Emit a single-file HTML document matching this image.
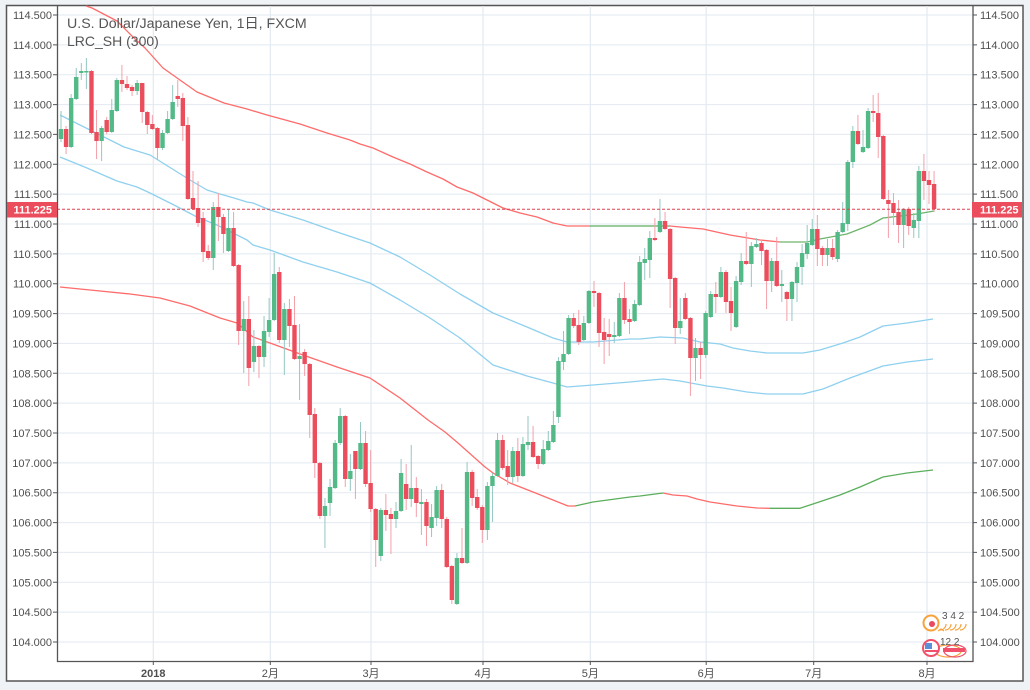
<!DOCTYPE html>
<html><head><meta charset="utf-8"><style>
html,body{margin:0;padding:0;background:#f0f3f6;}
svg{display:block}
.uw{stroke:#94c7c2;stroke-width:1;fill:none}
.dw{stroke:#f3a0a9;stroke-width:1;fill:none}
.ub{stroke:#53b987;stroke-width:4.4;fill:none}
.db{stroke:#eb4d5c;stroke-width:4.4;fill:none}
.ax{font-family:"Liberation Sans",Arial,sans-serif;font-size:11px;fill:#4f4f4f}
.axr{font-family:"Liberation Sans",Arial,sans-serif;font-size:11px;fill:#4f4f4f;text-anchor:end}
.bx{font-family:"Liberation Sans","Noto Sans CJK JP",sans-serif;font-size:11px;fill:#4f4f4f;text-anchor:middle}
</style></head><body>
<svg width="1030" height="690" viewBox="0 0 1030 690" xmlns="http://www.w3.org/2000/svg">
<rect width="1030" height="690" fill="#f0f3f6"/>
<rect x="6.5" y="5.5" width="1016.5" height="675.5" fill="#ffffff" stroke="#555" stroke-width="1.5"/>
<!-- grid -->
<path stroke="#e2eaf1" stroke-width="1" fill="none" d="M57 15H973M57 44.9H973M57 74.7H973M57 104.6H973M57 134.4H973M57 164.3H973M57 194.1H973M57 224H973M57 253.9H973M57 283.7H973M57 313.6H973M57 343.4H973M57 373.3H973M57 403.1H973M57 433H973M57 462.9H973M57 492.7H973M57 522.6H973M57 552.4H973M57 582.3H973M57 612.1H973M57 642H973"/>
<path stroke="#e2eaf1" stroke-width="1.2" fill="none" d="M153.3 6V661M270.3 6V661M371 6V661M483 6V661M590.3 6V661M706.2 6V661M813.7 6V661M927 6V661"/>
<!-- indicator lines -->
<g fill="none" stroke-width="1.3" stroke-linejoin="round">
<polyline stroke="#ff6b6b" points="86,6 92,8 117,21 133,37 145,48 163,68 187,85 197,92 224,103 247,109 267,115 300,124 327,133 350,140 360,144 373,148 393,157 410,164 427,172 443,179 457,187 473,193 487,200 503,208 520,213 537,217 553,223 567,226 590,226"/>
<polyline stroke="#5cae5c" points="590,226 670,226"/>
<polyline stroke="#ff6b6b" points="670,226 680,227 703,229 730,235 760,240 780,242"/>
<polyline stroke="#6db56d" points="780,242 807,242 820,239 847,234 870,225 883,218 900,216 917,214 934,211"/>
<polyline stroke="#8fd0ef" points="60,115 90,130 124,147 150,155 190,180 207,190 220,194 234,198 247,202 253,203 270,210 303,220 337,232 370,243 400,257 430,275 460,294 493,313 527,327 553,338 567,342 593,342 630,339 640,339 660,337 683,338 700,342 720,344 733,348 750,351 767,353 803,353 820,350 843,343 860,337 883,326 907,323 933,319"/>
<polyline stroke="#8fd0ef" points="60,157 87,168 117,181 137,187 150,193 174,205 197,217 217,225 233,233 247,240 253,245 270,250 303,262 337,272 370,283 400,300 430,318 460,338 493,365 527,376 553,383 567,387 593,385 630,382 640,381 663,379 680,381 707,386 723,388 747,392 767,394 803,394 823,389 850,378 883,366 907,362 933,359"/>
<polyline stroke="#ff6b6b" points="60,287 100,291 130,294 160,298 190,306 220,318 237,323 253,337 270,343 303,355 337,367 370,378 400,398 428,420 445,432 458,443 485,467 493,473 510,483 533,492 553,500 568,506 575,506"/>
<polyline stroke="#5cae5c" points="575,506 593,502 630,497 640,496 663,493"/>
<polyline stroke="#ff6b6b" points="663,493 673,495 687,496 697,499 710,502 737,506 757,508 770,508.3"/>
<polyline stroke="#5cae5c" points="770,508.3 800,508.3 813,504 840,495 860,487 883,477 907,473 933,470"/>
</g>
<!-- candles -->
<g transform="translate(61,0)"><path class="uw" d="M0 111V142"/><path class="ub" d="M0 129V139"/>
<g transform="translate(5.076,0)"><path class="dw" d="M0 126V154"/><path class="db" d="M0 129V147"/>
<g transform="translate(5.076,0)"><path class="uw" d="M0 94V148"/><path class="ub" d="M0 98V147"/>
<g transform="translate(5.076,0)"><path class="uw" d="M0 68V100"/><path class="ub" d="M0 77V99"/>
<g transform="translate(5.076,0)"><path class="uw" d="M0 63V80"/><path class="ub" d="M0 71V73"/>
<g transform="translate(5.076,0)"><path class="uw" d="M0 58V89"/><path class="ub" d="M0 71V72.5"/>
<g transform="translate(5.076,0)"><path class="dw" d="M0 70V134"/><path class="db" d="M0 71V133"/>
<g transform="translate(5.076,0)"><path class="dw" d="M0 110V159"/><path class="db" d="M0 132V141"/>
<g transform="translate(5.076,0)"><path class="uw" d="M0 126V161"/><path class="ub" d="M0 128V141"/>
<g transform="translate(5.076,0)"><path class="dw" d="M0 117V134"/><path class="db" d="M0 120V132"/>
<g transform="translate(5.076,0)"><path class="uw" d="M0 99V133"/><path class="ub" d="M0 110V132"/>
<g transform="translate(5.076,0)"><path class="uw" d="M0 78V112"/><path class="ub" d="M0 80V111"/>
<g transform="translate(5.076,0)"><path class="dw" d="M0 65V92"/><path class="db" d="M0 80V84"/>
<g transform="translate(5.076,0)"><path class="dw" d="M0 76V90"/><path class="db" d="M0 84V88"/>
<g transform="translate(5.076,0)"><path class="dw" d="M0 85V96"/><path class="db" d="M0 87V91"/>
<g transform="translate(5.076,0)"><path class="uw" d="M0 80V95"/><path class="ub" d="M0 83V91"/>
<g transform="translate(5.076,0)"><path class="dw" d="M0 83V123"/><path class="db" d="M0 83V112"/>
<g transform="translate(5.076,0)"><path class="dw" d="M0 111V134"/><path class="db" d="M0 112V125"/>
<g transform="translate(5.076,0)"><path class="dw" d="M0 115V130"/><path class="db" d="M0 124V129"/>
<g transform="translate(5.076,0)"><path class="dw" d="M0 127V160"/><path class="db" d="M0 128V148"/>
<g transform="translate(5.076,0)"><path class="uw" d="M0 130V150"/><path class="ub" d="M0 133V148"/>
<g transform="translate(5.076,0)"><path class="uw" d="M0 111V134"/><path class="ub" d="M0 119V133"/>
<g transform="translate(5.076,0)"><path class="uw" d="M0 85V120"/><path class="ub" d="M0 102V119"/>
<g transform="translate(5.076,0)"><path class="dw" d="M0 80V107"/><path class="db" d="M0 96V99"/>
<g transform="translate(5.076,0)"><path class="dw" d="M0 93V141"/><path class="db" d="M0 98V126"/>
<g transform="translate(5.076,0)"><path class="dw" d="M0 117V200"/><path class="db" d="M0 125V199"/>
<g transform="translate(5.076,0)"><path class="dw" d="M0 171V210"/><path class="db" d="M0 198V209"/>
<g transform="translate(5.076,0)"><path class="dw" d="M0 181V227"/><path class="db" d="M0 208V223"/>
<g transform="translate(5.076,0)"><path class="dw" d="M0 212V262"/><path class="db" d="M0 218V252"/>
<g transform="translate(5.076,0)"><path class="dw" d="M0 245V260"/><path class="db" d="M0 251V258"/>
<g transform="translate(5.076,0)"><path class="uw" d="M0 202V270"/><path class="ub" d="M0 207V258"/>
<g transform="translate(5.076,0)"><path class="dw" d="M0 193V241"/><path class="db" d="M0 207V217"/>
<g transform="translate(5.076,0)"><path class="dw" d="M0 214V253"/><path class="db" d="M0 217V234"/>
<g transform="translate(5.076,0)"><path class="uw" d="M0 209V252"/><path class="ub" d="M0 228V251"/>
<g transform="translate(5.076,0)"><path class="dw" d="M0 212V267"/><path class="db" d="M0 228V266"/>
<g transform="translate(5.076,0)"><path class="dw" d="M0 264V345"/><path class="db" d="M0 265V331"/>
<g transform="translate(5.076,0)"><path class="uw" d="M0 301V373"/><path class="ub" d="M0 319V331"/>
<g transform="translate(5.076,0)"><path class="dw" d="M0 296V386"/><path class="db" d="M0 319V368"/>
<g transform="translate(5.076,0)"><path class="uw" d="M0 330V372"/><path class="ub" d="M0 346V362"/>
<g transform="translate(5.076,0)"><path class="dw" d="M0 345V378"/><path class="db" d="M0 346V357"/>
<g transform="translate(5.076,0)"><path class="uw" d="M0 316V367"/><path class="ub" d="M0 331V357"/>
<g transform="translate(5.076,0)"><path class="uw" d="M0 298V337"/><path class="ub" d="M0 320V332"/>
<g transform="translate(5.076,0)"><path class="uw" d="M0 253V321"/><path class="ub" d="M0 274V320"/>
<g transform="translate(5.076,0)"><path class="dw" d="M0 267V343"/><path class="db" d="M0 272V340"/>
<g transform="translate(5.076,0)"><path class="uw" d="M0 303V375"/><path class="ub" d="M0 309V340"/>
<g transform="translate(5.076,0)"><path class="dw" d="M0 299V347"/><path class="db" d="M0 309V326"/>
<g transform="translate(5.076,0)"><path class="dw" d="M0 296V360"/><path class="db" d="M0 325V359"/>
<g transform="translate(5.076,0)"><path class="uw" d="M0 324V400"/><path class="ub" d="M0 356V359"/>
<g transform="translate(5.076,0)"><path class="dw" d="M0 349V376"/><path class="db" d="M0 352V364"/>
<g transform="translate(5.076,0)"><path class="dw" d="M0 363V438"/><path class="db" d="M0 364V415"/>
<g transform="translate(5.076,0)"><path class="dw" d="M0 408V478"/><path class="db" d="M0 414V463"/>
<g transform="translate(5.076,0)"><path class="dw" d="M0 462V519"/><path class="db" d="M0 463V516"/>
<g transform="translate(5.076,0)"><path class="uw" d="M0 498V548"/><path class="ub" d="M0 506V516"/>
<g transform="translate(5.076,0)"><path class="uw" d="M0 479V516"/><path class="ub" d="M0 487V503"/>
<g transform="translate(5.076,0)"><path class="uw" d="M0 440V489"/><path class="ub" d="M0 443V488"/>
<g transform="translate(5.076,0)"><path class="uw" d="M0 408V445"/><path class="ub" d="M0 416V443"/>
<g transform="translate(5.076,0)"><path class="dw" d="M0 415V487"/><path class="db" d="M0 416V479"/>
<g transform="translate(5.076,0)"><path class="uw" d="M0 454V491"/><path class="ub" d="M0 471V479"/>
<g transform="translate(5.076,0)"><path class="dw" d="M0 451V499"/><path class="db" d="M0 451V469"/>
<g transform="translate(5.076,0)"><path class="uw" d="M0 422V470"/><path class="ub" d="M0 443V469"/>
<g transform="translate(5.076,0)"><path class="dw" d="M0 431V487"/><path class="db" d="M0 443V484"/>
<g transform="translate(5.076,0)"><path class="dw" d="M0 450V512"/><path class="db" d="M0 483V509"/>
<g transform="translate(5.076,0)"><path class="dw" d="M0 508V567"/><path class="db" d="M0 509V540"/>
<g transform="translate(5.076,0)"><path class="uw" d="M0 508V561"/><path class="ub" d="M0 510V556"/>
<g transform="translate(5.076,0)"><path class="dw" d="M0 494V531"/><path class="db" d="M0 510V515"/>
<g transform="translate(5.076,0)"><path class="dw" d="M0 508V554"/><path class="db" d="M0 514V519"/>
<g transform="translate(5.076,0)"><path class="uw" d="M0 502V528"/><path class="ub" d="M0 511V519"/>
<g transform="translate(5.076,0)"><path class="uw" d="M0 459V512"/><path class="ub" d="M0 473V511"/>
<g transform="translate(5.076,0)"><path class="dw" d="M0 464V510"/><path class="db" d="M0 484V499"/>
<g transform="translate(5.076,0)"><path class="uw" d="M0 445V507"/><path class="ub" d="M0 488V499"/>
<g transform="translate(5.076,0)"><path class="dw" d="M0 477V517"/><path class="db" d="M0 488V503"/>
<g transform="translate(5.076,0)"><path class="uw" d="M0 489V535"/><path class="ub" d="M0 502V504"/>
<g transform="translate(5.076,0)"><path class="dw" d="M0 499V546"/><path class="db" d="M0 502V526"/>
<g transform="translate(5.076,0)"><path class="uw" d="M0 504V537"/><path class="ub" d="M0 517V528"/>
<g transform="translate(5.076,0)"><path class="uw" d="M0 486V526"/><path class="ub" d="M0 490V518"/>
<g transform="translate(5.076,0)"><path class="dw" d="M0 484V528"/><path class="db" d="M0 490V519"/>
<g transform="translate(5.076,0)"><path class="dw" d="M0 517V568"/><path class="db" d="M0 519V567"/>
<g transform="translate(5.076,0)"><path class="dw" d="M0 565V604"/><path class="db" d="M0 566V600"/>
<g transform="translate(5.076,0)"><path class="uw" d="M0 553V605"/><path class="ub" d="M0 558V604"/>
<g transform="translate(5.076,0)"><path class="dw" d="M0 528V564"/><path class="db" d="M0 558V563"/>
<g transform="translate(5.076,0)"><path class="uw" d="M0 462V564"/><path class="ub" d="M0 472V563"/>
<g transform="translate(5.076,0)"><path class="dw" d="M0 470V506"/><path class="db" d="M0 472V498"/>
<g transform="translate(5.076,0)"><path class="dw" d="M0 489V510"/><path class="db" d="M0 497V508"/>
<g transform="translate(5.076,0)"><path class="dw" d="M0 505V543"/><path class="db" d="M0 507V530"/>
<g transform="translate(5.076,0)"><path class="uw" d="M0 482V540"/><path class="ub" d="M0 486V530"/>
<g transform="translate(5.076,0)"><path class="uw" d="M0 473V522"/><path class="ub" d="M0 476V486"/>
<g transform="translate(5.076,0)"><path class="uw" d="M0 433V477"/><path class="ub" d="M0 440V476"/>
<g transform="translate(5.076,0)"><path class="dw" d="M0 435V470"/><path class="db" d="M0 440V468"/>
<g transform="translate(5.076,0)"><path class="dw" d="M0 450V485"/><path class="db" d="M0 466V477"/>
<g transform="translate(5.076,0)"><path class="uw" d="M0 447V483"/><path class="ub" d="M0 451V477"/>
<g transform="translate(5.076,0)"><path class="dw" d="M0 438V482"/><path class="db" d="M0 451V476"/>
<g transform="translate(5.076,0)"><path class="uw" d="M0 437V477"/><path class="ub" d="M0 444V476"/>
<g transform="translate(5.076,0)"><path class="uw" d="M0 416V450"/><path class="ub" d="M0 442V445"/>
<g transform="translate(5.076,0)"><path class="dw" d="M0 426V458"/><path class="db" d="M0 442V457"/>
<g transform="translate(5.076,0)"><path class="dw" d="M0 455V469"/><path class="db" d="M0 456V464"/>
<g transform="translate(5.076,0)"><path class="uw" d="M0 440V465"/><path class="ub" d="M0 449V464"/>
<g transform="translate(5.076,0)"><path class="uw" d="M0 431V451"/><path class="ub" d="M0 441V450"/>
<g transform="translate(5.076,0)"><path class="uw" d="M0 411V443"/><path class="ub" d="M0 425V442"/>
<g transform="translate(5.076,0)"><path class="uw" d="M0 357V423"/><path class="ub" d="M0 361V417"/>
<g transform="translate(5.076,0)"><path class="uw" d="M0 331V370"/><path class="ub" d="M0 354V362"/>
<g transform="translate(5.076,0)"><path class="uw" d="M0 315V355"/><path class="ub" d="M0 318V354"/>
<g transform="translate(5.076,0)"><path class="dw" d="M0 313V328"/><path class="db" d="M0 318V326"/>
<g transform="translate(5.076,0)"><path class="dw" d="M0 310V345"/><path class="db" d="M0 325V342"/>
<g transform="translate(5.076,0)"><path class="uw" d="M0 316V341"/><path class="ub" d="M0 323V340"/>
<g transform="translate(5.076,0)"><path class="uw" d="M0 290V324"/><path class="ub" d="M0 291V323"/>
<g transform="translate(5.076,0)"><path class="dw" d="M0 281V307"/><path class="db" d="M0 291V293"/>
<g transform="translate(5.076,0)"><path class="dw" d="M0 292V347"/><path class="db" d="M0 293V333"/>
<g transform="translate(5.076,0)"><path class="dw" d="M0 318V364"/><path class="db" d="M0 332V340"/>
<g transform="translate(5.076,0)"><path class="dw" d="M0 319V356"/><path class="db" d="M0 334V337"/>
<g transform="translate(5.076,0)"><path class="uw" d="M0 322V343"/><path class="ub" d="M0 335V337"/>
<g transform="translate(5.076,0)"><path class="uw" d="M0 293V337"/><path class="ub" d="M0 298V336"/>
<g transform="translate(5.076,0)"><path class="dw" d="M0 282V324"/><path class="db" d="M0 298V320"/>
<g transform="translate(5.076,0)"><path class="dw" d="M0 309V334"/><path class="db" d="M0 319V322"/>
<g transform="translate(5.076,0)"><path class="uw" d="M0 300V322"/><path class="ub" d="M0 304V321"/>
<g transform="translate(5.076,0)"><path class="uw" d="M0 256V306"/><path class="ub" d="M0 262V305"/>
<g transform="translate(5.076,0)"><path class="uw" d="M0 248V280"/><path class="ub" d="M0 259V263"/>
<g transform="translate(5.076,0)"><path class="uw" d="M0 231V278"/><path class="ub" d="M0 238V260"/>
<g transform="translate(5.076,0)"><path class="dw" d="M0 218V241"/><path class="db" d="M0 238V240"/>
<g transform="translate(5.076,0)"><path class="uw" d="M0 199V233"/><path class="ub" d="M0 221V232"/>
<g transform="translate(5.076,0)"><path class="dw" d="M0 212V230"/><path class="db" d="M0 221V229"/>
<g transform="translate(5.076,0)"><path class="dw" d="M0 228V308"/><path class="db" d="M0 229V279"/>
<g transform="translate(5.076,0)"><path class="dw" d="M0 277V344"/><path class="db" d="M0 278V328"/>
<g transform="translate(5.076,0)"><path class="uw" d="M0 298V334"/><path class="ub" d="M0 321V328"/>
<g transform="translate(5.076,0)"><path class="dw" d="M0 293V320"/><path class="db" d="M0 298V319"/>
<g transform="translate(5.076,0)"><path class="dw" d="M0 317V396"/><path class="db" d="M0 318V358"/>
<g transform="translate(5.076,0)"><path class="uw" d="M0 338V381"/><path class="ub" d="M0 348V358"/>
<g transform="translate(5.076,0)"><path class="dw" d="M0 342V379"/><path class="db" d="M0 348V355"/>
<g transform="translate(5.076,0)"><path class="uw" d="M0 311V358"/><path class="ub" d="M0 313V355"/>
<g transform="translate(5.076,0)"><path class="uw" d="M0 291V318"/><path class="ub" d="M0 294V317"/>
<g transform="translate(5.076,0)"><path class="dw" d="M0 282V313"/><path class="db" d="M0 294V297"/>
<g transform="translate(5.076,0)"><path class="uw" d="M0 267V298"/><path class="ub" d="M0 272V297"/>
<g transform="translate(5.076,0)"><path class="dw" d="M0 270V313"/><path class="db" d="M0 272V302"/>
<g transform="translate(5.076,0)"><path class="dw" d="M0 287V331"/><path class="db" d="M0 301V313"/>
<g transform="translate(5.076,0)"><path class="uw" d="M0 276V328"/><path class="ub" d="M0 281V327"/>
<g transform="translate(5.076,0)"><path class="uw" d="M0 253V285"/><path class="ub" d="M0 261V282"/>
<g transform="translate(5.076,0)"><path class="dw" d="M0 232V265"/><path class="db" d="M0 261V264"/>
<g transform="translate(5.076,0)"><path class="uw" d="M0 242V287"/><path class="ub" d="M0 246V264"/>
<g transform="translate(5.076,0)"><path class="uw" d="M0 238V248"/><path class="ub" d="M0 244V247"/>
<g transform="translate(5.076,0)"><path class="dw" d="M0 240V265"/><path class="db" d="M0 243V251"/>
<g transform="translate(5.076,0)"><path class="dw" d="M0 249V309"/><path class="db" d="M0 250V281"/>
<g transform="translate(5.076,0)"><path class="uw" d="M0 258V292"/><path class="ub" d="M0 261V281"/>
<g transform="translate(5.076,0)"><path class="dw" d="M0 237V287"/><path class="db" d="M0 261V286"/>
<g transform="translate(5.076,0)"><path class="uw" d="M0 270V302"/><path class="ub" d="M0 284V286"/>
<g transform="translate(5.076,0)"><path class="dw" d="M0 291V321"/><path class="db" d="M0 292V299"/>
<g transform="translate(5.076,0)"><path class="uw" d="M0 281V321"/><path class="ub" d="M0 282V299"/>
<g transform="translate(5.076,0)"><path class="uw" d="M0 262V302"/><path class="ub" d="M0 267V283"/>
<g transform="translate(5.076,0)"><path class="uw" d="M0 244V285"/><path class="ub" d="M0 253V267"/>
<g transform="translate(5.076,0)"><path class="uw" d="M0 225V259"/><path class="ub" d="M0 243V254"/>
<g transform="translate(5.076,0)"><path class="uw" d="M0 219V246"/><path class="ub" d="M0 229V245"/>
<g transform="translate(5.076,0)"><path class="dw" d="M0 215V266"/><path class="db" d="M0 229V249"/>
<g transform="translate(5.076,0)"><path class="dw" d="M0 246V266"/><path class="db" d="M0 248V255"/>
<g transform="translate(5.076,0)"><path class="uw" d="M0 239V266"/><path class="ub" d="M0 248V255"/>
<g transform="translate(5.076,0)"><path class="dw" d="M0 239V260"/><path class="db" d="M0 248V257"/>
<g transform="translate(5.076,0)"><path class="uw" d="M0 230V262"/><path class="ub" d="M0 232V259"/>
<g transform="translate(5.076,0)"><path class="uw" d="M0 202V233"/><path class="ub" d="M0 223V232"/>
<g transform="translate(5.076,0)"><path class="uw" d="M0 160V231"/><path class="ub" d="M0 162V224"/>
<g transform="translate(5.076,0)"><path class="uw" d="M0 126V168"/><path class="ub" d="M0 131V162"/>
<g transform="translate(5.076,0)"><path class="dw" d="M0 115V145"/><path class="db" d="M0 131V144"/>
<g transform="translate(5.076,0)"><path class="uw" d="M0 130V153"/><path class="ub" d="M0 147V152"/>
<g transform="translate(5.076,0)"><path class="uw" d="M0 108V149"/><path class="ub" d="M0 111V148"/>
<g transform="translate(5.076,0)"><path class="dw" d="M0 95V122"/><path class="db" d="M0 111V113"/>
<g transform="translate(5.076,0)"><path class="dw" d="M0 93V158"/><path class="db" d="M0 113V137"/>
<g transform="translate(5.076,0)"><path class="dw" d="M0 135V200"/><path class="db" d="M0 136V199"/>
<g transform="translate(5.076,0)"><path class="dw" d="M0 190V238"/><path class="db" d="M0 200V204"/>
<g transform="translate(5.076,0)"><path class="dw" d="M0 193V225"/><path class="db" d="M0 203V213"/>
<g transform="translate(5.076,0)"><path class="dw" d="M0 200V243"/><path class="db" d="M0 212V225"/>
<g transform="translate(5.076,0)"><path class="uw" d="M0 208V248"/><path class="ub" d="M0 209V225"/>
<g transform="translate(5.076,0)"><path class="dw" d="M0 207V235"/><path class="db" d="M0 209V226"/>
<g transform="translate(5.076,0)"><path class="uw" d="M0 213V238"/><path class="ub" d="M0 220V228"/>
<g transform="translate(5.076,0)"><path class="uw" d="M0 166V238"/><path class="ub" d="M0 171V221"/>
<g transform="translate(5.076,0)"><path class="dw" d="M0 154V200"/><path class="db" d="M0 171V181"/>
<g transform="translate(5.076,0)"><path class="dw" d="M0 171V204"/><path class="db" d="M0 180V185"/>
<g transform="translate(5.076,0)"><path class="dw" d="M0 171V212"/><path class="db" d="M0 184V209"/>
</g></g></g></g></g></g></g></g></g></g></g></g></g></g></g></g></g></g></g></g></g></g></g></g></g></g></g></g></g></g></g></g></g></g></g></g></g></g></g></g></g></g></g></g></g></g></g></g></g></g></g></g></g></g></g></g></g></g></g></g></g></g></g></g></g></g></g></g></g></g></g></g></g></g></g></g></g></g></g></g></g></g></g></g></g></g></g></g></g></g></g></g></g></g></g></g></g></g></g></g></g></g></g></g></g></g></g></g></g></g></g></g></g></g></g></g></g></g></g></g></g></g></g></g></g></g></g></g></g></g></g></g></g></g></g></g></g></g></g></g></g></g></g></g></g></g></g></g></g></g></g></g></g></g></g></g></g></g></g></g></g></g></g></g></g></g></g></g></g></g></g></g></g></g></g></g></g></g></g></g></g></g></g></g></g>
<!-- current price line -->
<path d="M57 209.3H973" stroke="#e0414f" stroke-width="1" stroke-dasharray="3 2" fill="none"/>
<!-- axes -->
<path d="M57.5 5V661.5H973V5" stroke="#555" stroke-width="1.3" fill="none"/>
<path stroke="#555" stroke-width="1" fill="none" d="M53 15H57M53 44.9H57M53 74.7H57M53 104.6H57M53 134.4H57M53 164.3H57M53 194.1H57M53 224H57M53 253.9H57M53 283.7H57M53 313.6H57M53 343.4H57M53 373.3H57M53 403.1H57M53 433H57M53 462.9H57M53 492.7H57M53 522.6H57M53 552.4H57M53 582.3H57M53 612.1H57M53 642H57 M973 15H977M973 44.9H977M973 74.7H977M973 104.6H977M973 134.4H977M973 164.3H977M973 194.1H977M973 224H977M973 253.9H977M973 283.7H977M973 313.6H977M973 343.4H977M973 373.3H977M973 403.1H977M973 433H977M973 462.9H977M973 492.7H977M973 522.6H977M973 552.4H977M973 582.3H977M973 612.1H977M973 642H977 M153.3 661V665M270.3 661V665M371 661V665M483 661V665M590.3 661V665M706.2 661V665M813.7 661V665M927 661V665"/>
<!-- left labels -->
<g class="axr">
<text x="52" y="19">114.500</text><text x="52" y="48.9">114.000</text><text x="52" y="78.7">113.500</text><text x="52" y="108.6">113.000</text><text x="52" y="138.4">112.500</text><text x="52" y="168.3">112.000</text><text x="52" y="198.1">111.500</text><text x="52" y="228">111.000</text><text x="52" y="257.9">110.500</text><text x="52" y="287.7">110.000</text><text x="52" y="317.6">109.500</text><text x="52" y="347.4">109.000</text><text x="52" y="377.3">108.500</text><text x="52" y="407.1">108.000</text><text x="52" y="437">107.500</text><text x="52" y="466.9">107.000</text><text x="52" y="496.7">106.500</text><text x="52" y="526.6">106.000</text><text x="52" y="556.4">105.500</text><text x="52" y="586.3">105.000</text><text x="52" y="616.1">104.500</text><text x="52" y="646">104.000</text>
</g>
<g class="ax">
<text x="980" y="19">114.500</text><text x="980" y="48.9">114.000</text><text x="980" y="78.7">113.500</text><text x="980" y="108.6">113.000</text><text x="980" y="138.4">112.500</text><text x="980" y="168.3">112.000</text><text x="980" y="198.1">111.500</text><text x="980" y="228">111.000</text><text x="980" y="257.9">110.500</text><text x="980" y="287.7">110.000</text><text x="980" y="317.6">109.500</text><text x="980" y="347.4">109.000</text><text x="980" y="377.3">108.500</text><text x="980" y="407.1">108.000</text><text x="980" y="437">107.500</text><text x="980" y="466.9">107.000</text><text x="980" y="496.7">106.500</text><text x="980" y="526.6">106.000</text><text x="980" y="556.4">105.500</text><text x="980" y="586.3">105.000</text><text x="980" y="616.1">104.500</text><text x="980" y="646">104.000</text>
</g>
<!-- price boxes -->
<rect x="972" y="202" width="50" height="15.5" fill="#eb4d5c"/>
<text x="980" y="213.6" font-family="Liberation Sans, Arial, sans-serif" font-size="11" font-weight="bold" fill="#fff">111.225</text>
<rect x="7" y="202" width="50" height="15.5" fill="#eb4d5c"/>
<text x="52" y="213.6" font-family="Liberation Sans, Arial, sans-serif" font-size="11" font-weight="bold" fill="#fff" text-anchor="end">111.225</text>
<!-- bottom labels -->
<g class="bx">
<text x="153.3" y="677" font-weight="bold">2018</text>
<text x="270.3" y="677">2月</text>
<text x="371" y="677">3月</text>
<text x="483" y="677">4月</text>
<text x="590.3" y="677">5月</text>
<text x="706.2" y="677">6月</text>
<text x="813.7" y="677">7月</text>
<text x="927" y="677">8月</text>
</g>
<!-- title -->
<text x="67" y="28" font-family="Liberation Sans, 'Noto Sans CJK JP', sans-serif" font-size="14.2" fill="#555">U.S. Dollar/Japanese Yen, 1日, FXCM</text>
<text x="67" y="46" font-family="Liberation Sans, Arial, sans-serif" font-size="14" fill="#555">LRC_SH (300)</text>
<!-- event icons -->
<g fill="none">
<path d="M940 630a6 6 0 0 0 6 -6M945 630a6 6 0 0 0 6 -6M950 630a6 6 0 0 0 6 -6M955 630a6 6 0 0 0 6 -6M960 630a6 6 0 0 0 6 -6" stroke="#f7a23b" stroke-width="1.2"/>
<circle cx="931" cy="623" r="7.5" stroke="#f7a23b" stroke-width="2" fill="#fff"/>
<circle cx="932" cy="624" r="3" fill="#e84a5f"/>
<path d="M938 631l3 -2 3 2" stroke="#f7a23b" stroke-width="1.2"/>
<ellipse cx="948" cy="651" rx="13" ry="6" stroke="#f7a23b" stroke-width="1.2"/>
<ellipse cx="955" cy="651" rx="11" ry="6" stroke="#f0506a" stroke-width="1.2"/>
<circle cx="931" cy="648" r="8" stroke="#f0506a" stroke-width="2" fill="#fff"/>
<rect x="925" y="643" width="7" height="6" fill="#5b8fd6"/>
<rect x="925" y="650" width="13" height="2" fill="#f0506a"/>
<rect x="943" y="648" width="22" height="4" fill="#f0506a"/>
</g>
<text x="942" y="619" font-family="Liberation Sans, Arial, sans-serif" font-size="10" fill="#555">3 4 2</text>
<text x="940" y="645" font-family="Liberation Sans, Arial, sans-serif" font-size="10" fill="#555">12 2</text>
</svg>
</body></html>
